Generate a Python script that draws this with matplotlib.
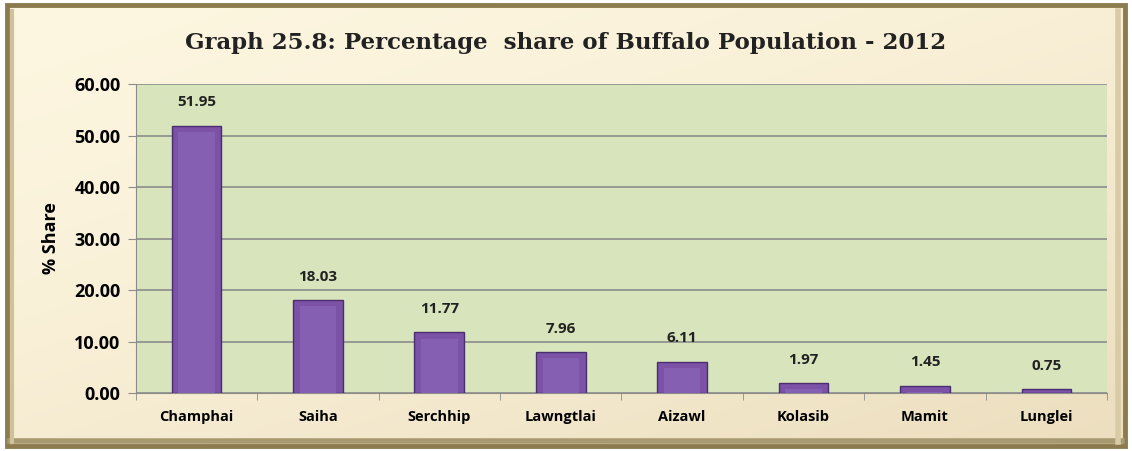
# Percentage share of buffalo population by district - 2012
import numpy as np
import matplotlib.pyplot as plt
from matplotlib.patches import Rectangle

# Data
districts = ['Champhai', 'Saiha', 'Serchhip', 'Lawngtlai', 'Aizawl', 'Kolasib', 'Mamit', 'Lunglei']
share = [51.95, 18.03, 11.77, 7.96, 6.11, 1.97, 1.45, 0.75]
y_ticks = [0, 10, 20, 30, 40, 50, 60]

fig = plt.figure(figsize=(11.32, 4.51), dpi=100)
fig.patch.set_facecolor('white')

# cream background with gradient inside a framed border
bg = fig.add_axes([0, 0, 1, 1], zorder=-2)
bg.set_xlim(0, 1)
bg.set_ylim(0, 1)
bg.axis('off')
grad = np.linspace(0, 1, 256)
gx, gy = np.meshgrid(grad, grad)
mix = np.clip(0.45 * gx + 0.55 * gy, 0, 1) ** 1.5   # row 0 is the top
top_col = np.array([253, 246, 224]) / 255
bot_col = np.array([236, 222, 190]) / 255
img = top_col[None, None, :] * (1 - mix[..., None]) + bot_col[None, None, :] * mix[..., None]
bg.imshow(img, extent=[0.006, 0.994, 0.01, 0.988], aspect='auto', zorder=0)
# outer frame and bevel
bg.add_patch(Rectangle((0.006, 0.01), 0.988, 0.978, fill=False, edgecolor='#8c7b4e', linewidth=3.5, zorder=2))
bg.add_line(plt.Line2D([0.009, 0.991], [0.022, 0.022], color='#a89a70', linewidth=4, zorder=2))
bg.add_line(plt.Line2D([0.988, 0.988], [0.02, 0.975], color='#d9cba5', linewidth=4, zorder=2))
bg.add_line(plt.Line2D([0.011, 0.011], [0.02, 0.975], color='#cfc29a', linewidth=3, zorder=2))

ax = fig.add_axes([0.120, 0.1286, 0.858, 0.685])
ax.set_facecolor('#d8e4bc')

x = np.arange(len(districts))
ax.bar(x, share, width=0.41, color='#7b52a6', edgecolor='#4a2d6e', linewidth=1.0, zorder=3)
# lighter inner face to mimic the bevel
ax.bar(x, [max(v - 1.2, 0) for v in share], width=0.30, color='#8560b2', linewidth=0, zorder=4)

# data labels
for xi, v in zip(x, share):
    ax.text(xi, v + 4.5, f'{v:.2f}', ha='center', va='center', fontsize=11,
            fontweight='bold', family='Open Sans', color='#222222')

ax.set_xlim(-0.5, len(districts) - 0.5)
ax.set_ylim(0, 60)
ax.set_yticks(y_ticks)
ax.set_yticklabels([f'{t:.2f}' for t in y_ticks], fontsize=13, fontweight='bold', family='Open Sans')
ax.set_xticks(x)
ax.set_xticklabels(districts, fontsize=10.5, fontweight='bold', family='Open Sans')
ax.set_xticks(np.arange(-0.5, len(districts), 1), minor=True)
ax.tick_params(axis='x', which='major', length=0, pad=12)
ax.tick_params(axis='x', which='minor', length=5, color='#8c8c8c')
ax.tick_params(axis='y', length=6, color='#8c8c8c', pad=5)

ax.grid(axis='y', color='#8c8c8c', linewidth=1.2, zorder=1)
for side in ['top', 'right']:
    ax.spines[side].set_visible(False)
ax.spines['left'].set_color('#8c8c8c')
ax.spines['bottom'].set_color('#8c8c8c')

ax.set_ylabel('% Share', fontsize=13, fontweight='bold', family='Open Sans', labelpad=10)

fig.text(0.5, 0.905, 'Graph 25.8: Percentage  share of Buffalo Population - 2012',
         ha='center', va='center', fontsize=16.5, fontweight='bold', family='DejaVu Serif', color='#222222')

plt.savefig('out.png', dpi=100)
